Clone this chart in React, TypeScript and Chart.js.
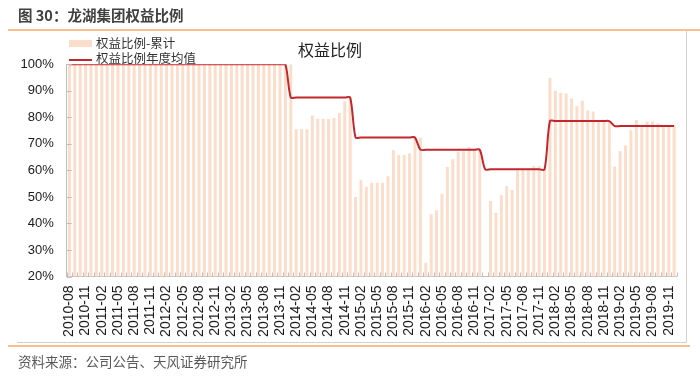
import React, { useEffect, useRef } from "react";
import { Chart, registerables } from "chart.js";

Chart.register(...registerables);

// ---- data ----
const startYear = 2010;
const startMonth = 8;
const monthCount = 113; // 2010-08 .. 2019-12

const bars2010 = [100, 100, 100, 100, 100];
const bars2011 = [100, 100, 100, 100, 100, 100, 100, 100, 100, 100, 100, 100];
const bars2012 = [100, 100, 100, 100, 100, 100, 100, 100, 100, 100, 100, 100];
const bars2013 = [100, 100, 100, 100, 100, 100, 100, 100, 100, 100, 100, 100];
const bars2014 = [100, 75.5, 75.5, 75.5, 80.7, 79.5, 79.5, 79.5, 79.8, 81.6, 86.1, 87.5];
const bars2015 = [50, 56.3, 53.8, 55.3, 55.3, 55.3, 57.8, 67.6, 65.8, 65.8, 66.5, 72.4];
const bars2016 = [72.3, 25.2, 43.5, 45, 51.2, 61.3, 64.2, 67, 67.2, 68.8, 67.6, 67.8];
const bars2017 = [null, 48.5, 44, 50.6, 54, 52.6, 60, 60.1, 60.1, 61.7, 61.7, 60.4];
const bars2018 = [94.8, 90, 89.3, 89, 87.1, 84.4, 86.3, 82.6, 82.2, 79.1, 79.1, 78.6];
const bars2019 = [61.5, 67.2, 69.4, 75.1, 79, 76.3, 78.4, 78.4, 77.8, 76.7, 76.7, 76.7];

const annualYears = [2010, 2011, 2012, 2013, 2014, 2015, 2016, 2017, 2018, 2019];
const annualAvg = [100, 100, 100, 100, 87.5, 72.4, 67.8, 60.4, 78.6, 76.7];

const yTicks = [20, 30, 40, 50, 60, 70, 80, 90, 100];

const labels: string[] = [];
const labelYears: number[] = [];
for (let i = 0; i < monthCount; i++) {
  const m0 = startMonth - 1 + i;
  const y = startYear + Math.floor(m0 / 12);
  const m = (m0 % 12) + 1;
  labels.push(`${y}-${m < 10 ? "0" + m : m}`);
  labelYears.push(y);
}

const barValues = [
  ...bars2010, ...bars2011, ...bars2012, ...bars2013, ...bars2014,
  ...bars2015, ...bars2016, ...bars2017, ...bars2018, ...bars2019,
];
const lineValues = labelYears.map((y) => annualAvg[annualYears.indexOf(y)]);

const BAR_COLOR = "#FBDDCA";
const LINE_COLOR = "#C3262C";
const AXIS_COLOR = "#BFBFBF";

const innerTicks = {
  id: "innerTicks",
  afterDatasetsDraw(chart: any) {
    const { ctx, chartArea } = chart;
    const xs = chart.scales.x;
    const ys = chart.scales.y;
    ctx.save();
    ctx.strokeStyle = AXIS_COLOR;
    ctx.lineWidth = 1;
    ctx.beginPath();
    const n = labels.length;
    const w = (chartArea.right - chartArea.left) / n;
    for (let i = 0; i <= n; i++) {
      const x = Math.round(xs.getPixelForValue(0) - w / 2 + i * w) + 0.5;
      ctx.moveTo(x, chartArea.bottom);
      ctx.lineTo(x, chartArea.bottom - 4);
    }
    for (const v of yTicks) {
      const y = Math.round(ys.getPixelForValue(v)) + 0.5;
      ctx.moveTo(chartArea.left, y);
      ctx.lineTo(chartArea.left + 5, y);
    }
    ctx.stroke();
    ctx.restore();
  },
};

export default function App() {
  const canvasRef = useRef<HTMLCanvasElement | null>(null);

  useEffect(() => {
    if (!canvasRef.current) return;
    const chart = new Chart(canvasRef.current, {
      type: "bar",
      data: {
        labels,
        datasets: [
          {
            type: "line",
            label: "权益比例年度均值",
            data: lineValues,
            borderColor: LINE_COLOR,
            borderWidth: 2,
            pointRadius: 0,
            tension: 0.3,
            fill: false,
            order: 0,
          } as any,
          {
            type: "bar",
            label: "权益比例-累计",
            data: barValues,
            backgroundColor: BAR_COLOR,
            borderWidth: 0,
            categoryPercentage: 1,
            barPercentage: 0.55,
            order: 1,
          } as any,
        ],
      },
      options: {
        animation: false,
        responsive: false,
        maintainAspectRatio: false,
        layout: { padding: { left: 8.7, top: 64.3, right: 15.7, bottom: 30.5 } },
        plugins: {
          legend: { display: false },
          tooltip: { enabled: false },
          title: { display: false },
        },
        scales: {
          x: {
            grid: { display: true, drawOnChartArea: false, drawTicks: false },
            border: { display: true, color: AXIS_COLOR, width: 1 },
            ticks: {
              autoSkip: false,
              minRotation: 90,
              maxRotation: 90,
              padding: 9,
              color: "#1a1a1a",
              font: { family: "'Liberation Sans', Arial, sans-serif", size: 14 },
              callback: (_v: any, i: number) => (i % 3 === 0 ? labels[i] : ""),
            },
            afterFit: (scale: any) => {
              scale.height = 70;
            },
          },
          y: {
            min: 20,
            max: 100,
            grid: { display: true, drawOnChartArea: false, drawTicks: false },
            border: { display: true, color: AXIS_COLOR, width: 1 },
            ticks: {
              stepSize: 10,
              padding: 13,
              color: "#1a1a1a",
              font: { family: "'Liberation Sans', Arial, sans-serif", size: 13 },
              callback: (v: any) => `${v}%`,
            },
            afterFit: (scale: any) => {
              scale.width = 58;
            },
          },
        },
      },
      plugins: [innerTicks],
    });
    return () => chart.destroy();
  }, []);

  const cjk = "'Noto Sans CJK SC', 'Noto Sans', sans-serif";

  return (
    <div
      style={{
        position: "absolute",
        left: 0,
        top: 0,
        width: 700,
        height: 377,
        background: "#fff",
        overflow: "hidden",
      }}
    >
      <canvas
        ref={canvasRef}
        width={700}
        height={377}
        style={{ position: "absolute", left: 0, top: 0, width: 700, height: 377 }}
      />
      <div
        style={{
          position: "absolute",
          left: 18,
          top: 5,
          fontFamily: cjk,
          fontWeight: 700,
          fontSize: 14.5,
          color: "#404040",
          lineHeight: "20px",
          whiteSpace: "nowrap",
        }}
      >
        图 30：龙湖集团权益比例
      </div>
      <div style={{ position: "absolute", left: 8, top: 29, width: 692, height: 2, background: "#F6BE92" }} />
      <div style={{ position: "absolute", left: 686, top: 31, width: 1, height: 312, background: "#D0D0D0" }} />
      <div style={{ position: "absolute", left: 17, top: 342, width: 670, height: 1, background: "#D0D0D0" }} />
      <div style={{ position: "absolute", left: 8, top: 345, width: 682, height: 2, background: "#F6BE92" }} />
      {/* legend */}
      <div style={{ position: "absolute", left: 69, top: 40, width: 23, height: 7, background: BAR_COLOR }} />
      <div
        style={{
          position: "absolute",
          left: 96,
          top: 35,
          fontFamily: cjk,
          fontSize: 12.5,
          color: "#333",
          lineHeight: "16px",
          whiteSpace: "nowrap",
        }}
      >
        权益比例-累计
      </div>
      <div style={{ position: "absolute", left: 69, top: 59, width: 23, height: 2, background: LINE_COLOR }} />
      <div
        style={{
          position: "absolute",
          left: 96,
          top: 50,
          fontFamily: cjk,
          fontSize: 12.5,
          color: "#333",
          lineHeight: "16px",
          whiteSpace: "nowrap",
        }}
      >
        权益比例年度均值
      </div>
      <div
        style={{
          position: "absolute",
          left: 298,
          top: 39,
          fontFamily: cjk,
          fontSize: 16,
          color: "#222",
          lineHeight: "20px",
          whiteSpace: "nowrap",
        }}
      >
        权益比例
      </div>
      <div
        style={{
          position: "absolute",
          left: 18,
          top: 352,
          fontFamily: cjk,
          fontSize: 13.5,
          color: "#595959",
          lineHeight: "18px",
          whiteSpace: "nowrap",
        }}
      >
        资料来源：公司公告、天风证券研究所
      </div>
    </div>
  );
}
